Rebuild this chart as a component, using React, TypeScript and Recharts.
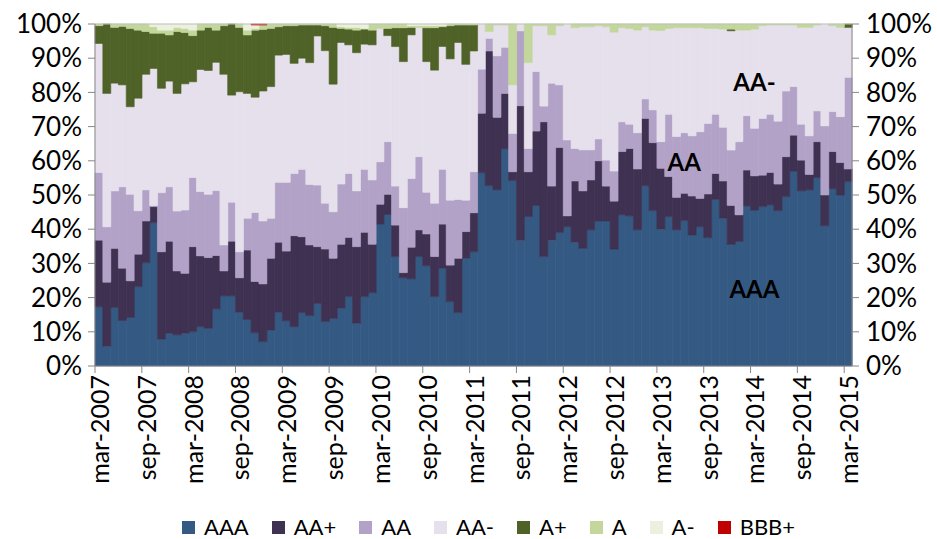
import { Bar, BarChart, ReferenceDot, ReferenceLine, XAxis, YAxis } from 'recharts'

const MONTH_NAMES = ['jan', 'feb', 'mar', 'apr', 'may', 'jun', 'jul', 'aug', 'sep', 'oct', 'nov', 'dec']

// one bar per month, mar-2007 .. mar-2015
const months: string[] = []
for (let i = 0; i < 97; i++) {
  const m = (2 + i) % 12
  const y = 2007 + Math.floor((2 + i) / 12)
  months.push(`${MONTH_NAMES[m]}-${y}`)
}

// share of portfolio per rating, %
const aaa = [
  17.3, 5.8, 17.1, 13.3, 14.2, 23.2, 30.2, 41.9, 7.9, 9.6,
  9.1, 9.6, 10.0, 11.5, 11.0, 16.7, 20.5, 20.5, 15.7, 13.6,
  9.7, 7.1, 10.5, 15.7, 13.2, 11.5, 15.6, 14.7, 18.3, 13.0,
  13.9, 16.9, 20.3, 12.5, 20.3, 21.4, 41.5, 44.3, 32.0, 25.8,
  25.6, 32.0, 29.3, 20.3, 28.8, 18.8, 15.6, 31.5, 33.4, 56.5,
  52.7, 51.5, 63.5, 54.2, 36.8, 43.7, 46.9, 32.0, 36.8, 39.0,
  40.7, 36.2, 34.4, 39.8, 42.4, 42.4, 34.2, 44.2, 43.9, 39.8,
  52.7, 45.4, 40.0, 43.7, 39.8, 42.5, 38.3, 40.7, 37.5, 48.7,
  43.2, 35.6, 36.4, 46.8, 45.6, 46.6, 47.1, 45.4, 49.5, 57.0,
  51.2, 51.5, 55.1, 41.0, 51.8, 50.0, 53.9,
]
const aaPlus = [
  19.5, 18.7, 17.3, 15.3, 10.7, 9.5, 12.2, 4.7, 25.5, 26.9,
  18.7, 17.5, 24.9, 20.7, 20.7, 15.6, 7.3, 16.0, 10.1, 20.3,
  15.0, 16.9, 21.0, 20.5, 20.4, 26.6, 22.2, 20.7, 16.6, 21.2,
  17.6, 18.7, 17.3, 22.4, 18.8, 14.2, 5.8, 5.9, 9.2, 1.5,
  9.3, 7.8, 9.3, 11.7, 12.9, 10.7, 15.9, 7.8, 11.4, 17.4,
  39.4, 21.2, 16.2, 2.6, 39.3, 13.1, 21.8, 39.4, 15.8, 24.9,
  3.2, 17.9, 16.8, 14.6, 17.6, 10.2, 14.0, 18.5, 19.7, 17.8,
  19.7, 19.9, 17.8, 11.7, 9.5, 8.0, 11.4, 8.3, 12.8, 7.6,
  10.9, 11.4, 7.8, 10.5, 10.0, 9.2, 9.5, 7.8, 11.7, 10.5,
  9.0, 4.5, 10.5, 9.0, 10.9, 9.5, 3.7,
]
const aa = [
  19.8, 16.2, 16.8, 23.8, 25.3, 12.7, 9.1, 0.3, 17.3, 15.9,
  17.5, 18.5, 20.2, 18.8, 18.5, 19.0, 7.6, 11.4, 7.6, 9.3,
  20.2, 18.4, 11.7, 17.5, 20.1, 18.2, 19.7, 17.7, 18.0, 13.4,
  13.6, 17.6, 18.7, 16.3, 18.4, 18.8, 12.4, 15.4, 11.4, 19.0,
  20.2, 21.4, 12.2, 15.6, 16.1, 19.0, 17.2, 9.2, 12.0, 12.9,
  3.7, 18.0, 13.5, 11.2, 21.9, 6.8, 17.4, 4.6, 30.1, 18.3,
  22.2, 9.5, 12.0, 8.8, 6.4, 7.6, 8.8, 8.7, 7.1, 10.6,
  5.7, 9.6, 7.8, 18.2, 17.8, 17.7, 17.6, 19.5, 20.6, 17.3,
  15.7, 16.2, 21.4, 15.9, 13.9, 16.6, 17.0, 18.4, 19.2, 14.2,
  10.5, 11.3, 9.0, 20.2, 11.7, 13.4, 26.8,
]
const aaMinus = [
  37.7, 39.0, 31.5, 29.8, 25.6, 32.9, 33.8, 40.1, 30.5, 30.9,
  34.4, 36.9, 28.0, 35.7, 36.2, 37.5, 49.9, 31.3, 46.8, 36.5,
  33.7, 38.0, 38.5, 37.2, 37.4, 32.2, 32.5, 35.6, 43.6, 44.6,
  37.3, 41.4, 37.6, 40.4, 36.6, 39.5, 39.0, 31.0, 40.8, 42.7,
  42.2, 37.8, 38.2, 38.9, 36.1, 41.3, 45.9, 39.7, 35.3, 13.2,
  2.0, 9.0, 6.5, 14.2, 2.0, 25.1, 13.4, 23.5, 14.1, 17.3,
  33.9, 35.3, 36.0, 36.0, 33.1, 39.0, 40.6, 27.5, 28.0, 30.0,
  21.1, 23.3, 32.5, 25.1, 31.8, 30.7, 31.6, 30.4, 27.8, 25.1,
  28.7, 34.9, 32.6, 25.0, 29.0, 27.1, 26.1, 28.1, 19.3, 18.0,
  28.3, 31.7, 25.1, 29.8, 25.1, 26.1, 14.6,
]
const aPlus = [
  5.2, 20.3, 16.3, 17.1, 22.9, 19.9, 12.5, 10.3, 16.1, 13.5,
  18.1, 15.0, 13.5, 11.5, 12.6, 9.4, 14.2, 20.8, 18.8, 17.1,
  19.6, 18.0, 17.0, 8.3, 8.4, 11.0, 9.7, 11.0, 3.2, 7.3,
  16.6, 4.1, 4.6, 6.6, 4.4, 4.3, 0, 2.1, 5.5, 9.9,
  2.2, 0, 9.9, 12.4, 5.8, 9.7, 5.1, 11.5, 7.6, 0,
  0, 0, 0, 0, 0, 0, 0, 0, 0, 0,
  0, 0, 0, 0, 0, 0, 0, 0, 0, 0,
  0, 0, 0, 0, 0, 0, 0, 0, 0, 0,
  0, 0.5, 0, 0, 0, 0, 0, 0, 0, 0,
  0, 0, 0, 0, 0, 0, 1.0,
]
const a = [
  0.5, 0, 1.0, 0.7, 1.3, 1.8, 2.2, 1.9, 0.9, 1.4,
  1.2, 1.2, 1.6, 1.8, 1.0, 1.8, 0.5, 0, 1.0, 1.4,
  0.5, 1.3, 1.3, 0.8, 0.5, 0.5, 0.3, 0.3, 0.3, 0.5,
  1.0, 0.5, 0.5, 0.8, 0.2, 1.8, 1.3, 1.3, 1.1, 1.1,
  0.5, 0.5, 0.6, 0.6, 0.3, 0.5, 0.3, 0.3, 0.3, 0,
  2.2, 0.3, 0.3, 17.8, 0, 11.3, 0.5, 0.5, 3.2, 0.5,
  0, 1.1, 0.8, 0.8, 0.5, 0.8, 2.4, 1.1, 1.3, 1.8,
  0.8, 1.8, 1.9, 1.3, 1.1, 1.1, 1.1, 1.1, 1.3, 1.3,
  1.5, 1.5, 1.8, 1.8, 1.5, 0.5, 0.3, 0.3, 0.3, 0.3,
  1.0, 1.0, 0.3, 0, 0.5, 1.0, 0,
]
const aMinus = [
  0, 0, 0, 0, 0, 0, 0, 0.8, 1.8, 1.8,
  1.0, 1.3, 1.8, 0, 0, 0, 0, 0, 0, 1.8,
  1.0, 0, 0, 0, 0, 0, 0, 0, 0, 0,
  0, 0.8, 1.0, 1.0, 1.3, 0, 0, 0, 0, 0,
  0.5, 0.5, 0.5, 0.5, 0.5, 0, 0, 0, 0, 0,
  0, 0, 0, 0, 0, 0, 0, 0, 0, 0,
  0, 0, 0, 0, 0, 0, 0, 0, 0, 0,
  0, 0, 0, 0, 0, 0, 0, 0, 0, 0,
  0, 0, 0, 0, 0, 0, 0, 0, 0, 0,
  0, 0, 0, 0, 0, 0, 0,
]
const bbbPlus = [
  0, 0, 0, 0, 0, 0, 0, 0, 0, 0,
  0, 0, 0, 0, 0, 0, 0, 0, 0, 0,
  0.3, 0.3, 0, 0, 0, 0, 0, 0, 0, 0,
  0, 0, 0, 0, 0, 0, 0, 0, 0, 0,
  0, 0, 0, 0, 0, 0, 0, 0, 0, 0,
  0, 0, 0, 0, 0, 0, 0, 0, 0, 0,
  0, 0, 0, 0, 0, 0, 0, 0, 0, 0,
  0, 0, 0, 0, 0, 0, 0, 0, 0, 0,
  0, 0, 0, 0, 0, 0, 0, 0, 0, 0,
  0, 0, 0, 0, 0, 0, 0,
]

const pctTicks = [0, 0.1, 0.2, 0.3, 0.4, 0.5, 0.6, 0.7, 0.8, 0.9, 1]

const SERIES = [
  { key: 'aaa', name: 'AAA', color: '#345A84', values: aaa },
  { key: 'aaPlus', name: 'AA+', color: '#3F3151', values: aaPlus },
  { key: 'aa', name: 'AA', color: '#B3A2C7', values: aa },
  { key: 'aaMinus', name: 'AA-', color: '#E5E0EC', values: aaMinus },
  { key: 'aPlus', name: 'A+', color: '#4F6228', values: aPlus },
  { key: 'a', name: 'A', color: '#C3D69B', values: a },
  { key: 'aMinus', name: 'A-', color: '#EBF1DE', values: aMinus },
  { key: 'bbbPlus', name: 'BBB+', color: '#C00000', values: bbbPlus },
]

const data = months.map((month, i) => {
  const row: Record<string, string | number> = { month }
  SERIES.forEach((s) => {
    row[s.key] = s.values[i]
  })
  return row
})

const AXIS = '#868686'
const FONT = 'Lato, "Open Sans", sans-serif'
const PLOT_WIDTH = 757
const BAND = PLOT_WIDTH / months.length
const X_TICK = 7
const X_GAP = 2

// label sits on the bar centre, tick mark on the bar's left edge
function MonthTick(props: any) {
  const { x, y, payload } = props
  const tx = x - BAND / 2
  return (
    <g>
      <line x1={tx} x2={tx} y1={y - X_TICK - X_GAP} y2={y - X_GAP} stroke={AXIS} />
      <text
        x={x}
        y={y}
        transform={`rotate(-90 ${x} ${y})`}
        textAnchor="end"
        dominantBaseline="central"
        fontSize={25}
        fill="#000"
      >
        {payload.value}
      </text>
    </g>
  )
}

const pct = (v: number) => `${Math.round(v * 100)}%`

const noteStyle = { fontSize: 24, fontWeight: 700, fill: '#000' }

export default function App() {
  return (
    <div style={{ position: 'absolute', left: 0, top: 0, width: 937, height: 539, fontFamily: FONT, background: '#fff' }}>
      <BarChart
        width={937}
        height={539}
        data={data}
        stackOffset="expand"
        barCategoryGap={0}
        barGap={0}
        margin={{ top: 24, right: 0, bottom: 53, left: 0 }}
      >
        <XAxis
          dataKey="month"
          interval={5}
          height={120}
          tickLine={false}
          tickSize={X_TICK}
          tickMargin={X_GAP}
          axisLine={{ stroke: AXIS }}
          tick={<MonthTick />}
        />
        <YAxis
          yAxisId="left"
          width={95}
          domain={[0, 1]}
          ticks={pctTicks}
          interval={0}
          tickFormatter={pct}
          tick={{ fill: '#000', fontSize: 26 }}
          tickSize={7}
          tickMargin={6}
          tickLine={{ stroke: AXIS }}
          axisLine={{ stroke: AXIS }}
        />
        <YAxis
          yAxisId="right"
          orientation="right"
          width={85}
          type="number"
          domain={[0, 1]}
          allowDataOverflow
          ticks={pctTicks}
          interval={0}
          tickFormatter={pct}
          tick={{ fill: '#000', fontSize: 26, textAnchor: 'start' }}
          tickSize={7}
          tickMargin={7}
          tickLine={{ stroke: AXIS }}
          axisLine={{ stroke: AXIS }}
        />
        {SERIES.map((s) => (
          <Bar
            key={s.key}
            yAxisId="left"
            dataKey={s.key}
            name={s.name}
            stackId="rating"
            fill={s.color}
            stroke={s.color}
            strokeWidth={0.6}
            isAnimationActive={false}
          />
        ))}
        <ReferenceLine yAxisId="left" y={1} stroke="#BFBFBF" />
        <ReferenceDot yAxisId="left" x="mar-2014" y={0.83} r={0} label={{ value: 'AA-', position: 'center', ...noteStyle }} />
        <ReferenceDot yAxisId="left" x="jun-2013" y={0.595} r={0} label={{ value: 'AA', position: 'center', ...noteStyle }} />
        <ReferenceDot yAxisId="left" x="mar-2014" y={0.225} r={0} label={{ value: 'AAA', position: 'center', ...noteStyle }} />
      </BarChart>

      <div
        style={{
          position: 'absolute',
          left: 182,
          top: 515,
          height: 24,
          display: 'flex',
          alignItems: 'center',
          gap: 23,
          fontSize: 22,
          lineHeight: '24px',
          color: '#000',
        }}
      >
        {SERIES.map((s) => (
          <div key={s.key} style={{ display: 'flex', alignItems: 'center', gap: 9 }}>
            <span style={{ width: 13, height: 13, background: s.color, display: 'inline-block' }} />
            <span>{s.name}</span>
          </div>
        ))}
      </div>
    </div>
  )
}
